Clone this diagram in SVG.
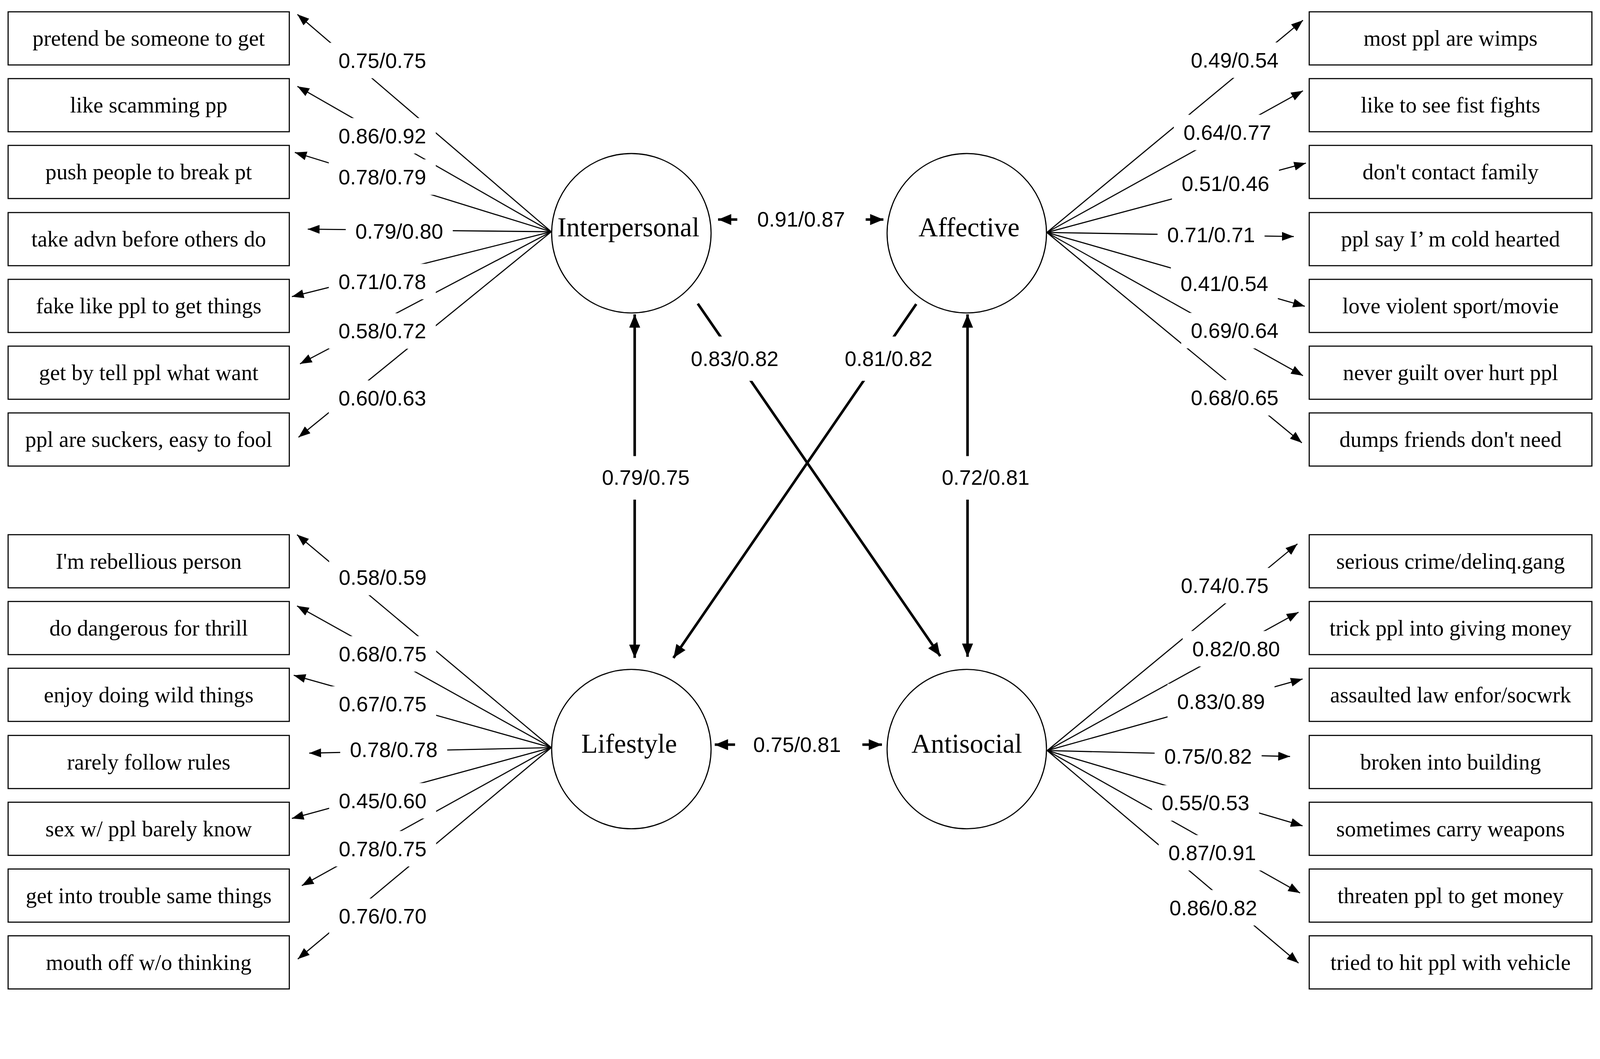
<svg xmlns="http://www.w3.org/2000/svg" width="4336" height="2711" viewBox="0 0 4336 2711" preserveAspectRatio="xMidYMin meet" style="width:100%;height:100%">
<style>
.box{fill:#fff;stroke:#000;stroke-width:3}
.bt{font-family:"Liberation Serif",serif;font-size:60px;text-anchor:middle}
.nt{font-family:"Liberation Serif",serif;font-size:73px;text-anchor:middle}
.lt{font-family:"Liberation Sans",sans-serif;font-size:57px;text-anchor:middle}
.circ{fill:#fff;stroke:#000;stroke-width:3}
.thin{stroke:#000;stroke-width:3;marker-end:url(#ah)}
.thick{stroke:#000;stroke-width:7;marker-end:url(#AH)}
.dbl{stroke:#000;stroke-width:7;marker-start:url(#AH);marker-end:url(#AH)}
.bg{fill:#fff}
</style>
<defs>
<marker id="ah" viewBox="0 0 32 24" refX="32" refY="12" markerWidth="32" markerHeight="24" markerUnits="userSpaceOnUse" orient="auto-start-reverse"><path d="M0,0 L32,12 L0,24 z"/></marker>
<marker id="AH" viewBox="0 0 36 30" refX="36" refY="15" markerWidth="36" markerHeight="30" markerUnits="userSpaceOnUse" orient="auto-start-reverse"><path d="M0,0 L36,15 L0,30 z"/></marker>
</defs>
<g id="connectors">
<line class="thin" x1="1494" y1="628" x2="806" y2="39"/>
<line class="thin" x1="1494" y1="628" x2="806" y2="234"/>
<line class="thin" x1="1494" y1="628" x2="799" y2="413"/>
<line class="thin" x1="1494" y1="628" x2="834" y2="621"/>
<line class="thin" x1="1494" y1="628" x2="791" y2="804"/>
<line class="thin" x1="1494" y1="628" x2="813" y2="986"/>
<line class="thin" x1="1494" y1="628" x2="809" y2="1185"/>
<line class="thin" x1="1494" y1="2026" x2="805" y2="1449"/>
<line class="thin" x1="1494" y1="2026" x2="805" y2="1642"/>
<line class="thin" x1="1494" y1="2026" x2="796" y2="1830"/>
<line class="thin" x1="1494" y1="2026" x2="838" y2="2041"/>
<line class="thin" x1="1494" y1="2026" x2="791" y2="2218"/>
<line class="thin" x1="1494" y1="2026" x2="818" y2="2400"/>
<line class="thin" x1="1494" y1="2026" x2="807" y2="2599"/>
<line class="thin" x1="2837" y1="630" x2="3531" y2="55"/>
<line class="thin" x1="2837" y1="630" x2="3531" y2="246"/>
<line class="thin" x1="2837" y1="630" x2="3539" y2="442"/>
<line class="thin" x1="2837" y1="630" x2="3506" y2="641"/>
<line class="thin" x1="2837" y1="630" x2="3536" y2="830"/>
<line class="thin" x1="2837" y1="630" x2="3531" y2="1018"/>
<line class="thin" x1="2837" y1="630" x2="3528" y2="1200"/>
<line class="thin" x1="2838" y1="2034" x2="3516" y2="1474"/>
<line class="thin" x1="2838" y1="2034" x2="3519" y2="1659"/>
<line class="thin" x1="2838" y1="2034" x2="3530" y2="1840"/>
<line class="thin" x1="2838" y1="2034" x2="3496" y2="2050"/>
<line class="thin" x1="2838" y1="2034" x2="3530" y2="2238"/>
<line class="thin" x1="2838" y1="2034" x2="3523" y2="2420"/>
<line class="thin" x1="2838" y1="2034" x2="3519" y2="2610"/>
<line class="dbl" x1="1946" y1="595" x2="2394" y2="595"/>
<line class="dbl" x1="1937" y1="2018" x2="2390" y2="2018"/>
<line class="dbl" x1="1720" y1="852" x2="1720" y2="1783"/>
<line class="dbl" x1="2622" y1="852" x2="2622" y2="1780"/>
<line class="thick" x1="1891" y1="823" x2="2548" y2="1778"/>
<line class="thick" x1="2483" y1="824" x2="1825" y2="1783"/>
</g>
<g id="labels">
<rect class="bg" x="891" y="116" width="290" height="96"/><text class="lt" x="1036" y="184">0.75/0.75</text>
<rect class="bg" x="891" y="320" width="290" height="96"/><text class="lt" x="1036" y="388">0.86/0.92</text>
<rect class="bg" x="891" y="432" width="290" height="96"/><text class="lt" x="1036" y="500">0.78/0.79</text>
<rect class="bg" x="937" y="579" width="290" height="96"/><text class="lt" x="1082" y="647">0.79/0.80</text>
<rect class="bg" x="891" y="715" width="290" height="96"/><text class="lt" x="1036" y="783">0.71/0.78</text>
<rect class="bg" x="891" y="849" width="290" height="96"/><text class="lt" x="1036" y="917">0.58/0.72</text>
<rect class="bg" x="891" y="1031" width="290" height="96"/><text class="lt" x="1036" y="1099">0.60/0.63</text>
<rect class="bg" x="892" y="1517" width="290" height="96"/><text class="lt" x="1037" y="1585">0.58/0.59</text>
<rect class="bg" x="892" y="1724" width="290" height="96"/><text class="lt" x="1037" y="1792">0.68/0.75</text>
<rect class="bg" x="892" y="1860" width="290" height="96"/><text class="lt" x="1037" y="1928">0.67/0.75</text>
<rect class="bg" x="922" y="1984" width="290" height="96"/><text class="lt" x="1067" y="2052">0.78/0.78</text>
<rect class="bg" x="892" y="2122" width="290" height="96"/><text class="lt" x="1037" y="2190">0.45/0.60</text>
<rect class="bg" x="892" y="2252" width="290" height="96"/><text class="lt" x="1037" y="2320">0.78/0.75</text>
<rect class="bg" x="892" y="2435" width="290" height="96"/><text class="lt" x="1037" y="2503">0.76/0.70</text>
<rect class="bg" x="3201" y="115" width="290" height="96"/><text class="lt" x="3346" y="183">0.49/0.54</text>
<rect class="bg" x="3181" y="311" width="290" height="96"/><text class="lt" x="3326" y="379">0.64/0.77</text>
<rect class="bg" x="3176" y="450" width="290" height="96"/><text class="lt" x="3321" y="518">0.51/0.46</text>
<rect class="bg" x="3137" y="588" width="290" height="96"/><text class="lt" x="3282" y="656">0.71/0.71</text>
<rect class="bg" x="3173" y="721" width="290" height="96"/><text class="lt" x="3318" y="789">0.41/0.54</text>
<rect class="bg" x="3201" y="848" width="290" height="96"/><text class="lt" x="3346" y="916">0.69/0.64</text>
<rect class="bg" x="3201" y="1030" width="290" height="96"/><text class="lt" x="3346" y="1098">0.68/0.65</text>
<rect class="bg" x="3174" y="1539" width="290" height="96"/><text class="lt" x="3319" y="1607">0.74/0.75</text>
<rect class="bg" x="3205" y="1710" width="290" height="96"/><text class="lt" x="3350" y="1778">0.82/0.80</text>
<rect class="bg" x="3164" y="1853" width="290" height="96"/><text class="lt" x="3309" y="1921">0.83/0.89</text>
<rect class="bg" x="3129" y="2002" width="290" height="96"/><text class="lt" x="3274" y="2070">0.75/0.82</text>
<rect class="bg" x="3122" y="2128" width="290" height="96"/><text class="lt" x="3267" y="2196">0.55/0.53</text>
<rect class="bg" x="3140" y="2263" width="290" height="96"/><text class="lt" x="3285" y="2331">0.87/0.91</text>
<rect class="bg" x="3143" y="2412" width="290" height="96"/><text class="lt" x="3288" y="2480">0.86/0.82</text>
<rect class="bg" x="1998" y="546" width="348" height="98"/><text class="lt" x="2171" y="614">0.91/0.87</text>
<rect class="bg" x="1992" y="1969" width="345" height="98"/><text class="lt" x="2160" y="2038">0.75/0.81</text>
<rect class="bg" x="1595" y="1236" width="310" height="118"/><text class="lt" x="1750" y="1314">0.79/0.75</text>
<rect class="bg" x="2516" y="1236" width="310" height="118"/><text class="lt" x="2671" y="1314">0.72/0.81</text>
<rect class="bg" x="1845" y="912" width="300" height="120"/><text class="lt" x="1991" y="992">0.83/0.82</text>
<rect class="bg" x="2258" y="912" width="300" height="120"/><text class="lt" x="2408" y="992">0.81/0.82</text>
</g>
<g id="n-interpersonal"><circle class="circ" cx="1711" cy="632" r="216"/><text class="nt" x="1703" y="640">Interpersonal</text></g>
<g id="n-affective"><circle class="circ" cx="2620" cy="632" r="216"/><text class="nt" x="2626" y="640">Affective</text></g>
<g id="n-lifestyle"><circle class="circ" cx="1711" cy="2030" r="216"/><text class="nt" x="1705" y="2040">Lifestyle</text></g>
<g id="n-antisocial"><circle class="circ" cx="2620" cy="2030" r="216"/><text class="nt" x="2620" y="2040">Antisocial</text></g>
<g id="left-top">
<g id="b-l1"><rect class="box" x="22" y="32" width="762" height="144"/><text class="bt" x="403" y="124">pretend be someone to get</text></g>
<g id="b-l2"><rect class="box" x="22" y="213" width="762" height="144"/><text class="bt" x="403" y="305">like scamming pp</text></g>
<g id="b-l3"><rect class="box" x="22" y="394" width="762" height="144"/><text class="bt" x="403" y="486">push people to break pt</text></g>
<g id="b-l4"><rect class="box" x="22" y="576" width="762" height="144"/><text class="bt" x="403" y="668">take advn before others do</text></g>
<g id="b-l5"><rect class="box" x="22" y="757" width="762" height="144"/><text class="bt" x="403" y="849">fake like ppl to get things</text></g>
<g id="b-l6"><rect class="box" x="22" y="938" width="762" height="144"/><text class="bt" x="403" y="1030">get by tell ppl what want</text></g>
<g id="b-l7"><rect class="box" x="22" y="1119" width="762" height="144"/><text class="bt" x="403" y="1211">ppl are suckers, easy to fool</text></g>
</g>
<g id="left-bottom">
<g id="b-l8"><rect class="box" x="22" y="1449" width="762" height="144"/><text class="bt" x="403" y="1541">I'm rebellious person</text></g>
<g id="b-l9"><rect class="box" x="22" y="1630" width="762" height="144"/><text class="bt" x="403" y="1722">do dangerous for thrill</text></g>
<g id="b-l10"><rect class="box" x="22" y="1811" width="762" height="144"/><text class="bt" x="403" y="1903">enjoy doing wild things</text></g>
<g id="b-l11"><rect class="box" x="22" y="1993" width="762" height="144"/><text class="bt" x="403" y="2085">rarely follow rules</text></g>
<g id="b-l12"><rect class="box" x="22" y="2174" width="762" height="144"/><text class="bt" x="403" y="2266">sex w/ ppl barely know</text></g>
<g id="b-l13"><rect class="box" x="22" y="2355" width="762" height="144"/><text class="bt" x="403" y="2447">get into trouble same things</text></g>
<g id="b-l14"><rect class="box" x="22" y="2536" width="762" height="144"/><text class="bt" x="403" y="2628">mouth off w/o thinking</text></g>
</g>
<g id="right-top">
<g id="b-r1"><rect class="box" x="3548" y="32" width="766" height="144"/><text class="bt" x="3931" y="124">most ppl are wimps</text></g>
<g id="b-r2"><rect class="box" x="3548" y="213" width="766" height="144"/><text class="bt" x="3931" y="305">like to see fist fights</text></g>
<g id="b-r3"><rect class="box" x="3548" y="394" width="766" height="144"/><text class="bt" x="3931" y="486">don't contact family</text></g>
<g id="b-r4"><rect class="box" x="3548" y="576" width="766" height="144"/><text class="bt" x="3931" y="668">ppl say I’ m cold hearted</text></g>
<g id="b-r5"><rect class="box" x="3548" y="757" width="766" height="144"/><text class="bt" x="3931" y="849">love violent sport/movie</text></g>
<g id="b-r6"><rect class="box" x="3548" y="938" width="766" height="144"/><text class="bt" x="3931" y="1030">never guilt over hurt ppl</text></g>
<g id="b-r7"><rect class="box" x="3548" y="1119" width="766" height="144"/><text class="bt" x="3931" y="1211">dumps friends don't need</text></g>
</g>
<g id="right-bottom">
<g id="b-r8"><rect class="box" x="3548" y="1449" width="766" height="144"/><text class="bt" x="3931" y="1541">serious crime/delinq.gang</text></g>
<g id="b-r9"><rect class="box" x="3548" y="1630" width="766" height="144"/><text class="bt" x="3931" y="1722">trick ppl into giving money</text></g>
<g id="b-r10"><rect class="box" x="3548" y="1811" width="766" height="144"/><text class="bt" x="3931" y="1903">assaulted law enfor/socwrk</text></g>
<g id="b-r11"><rect class="box" x="3548" y="1993" width="766" height="144"/><text class="bt" x="3931" y="2085">broken into building</text></g>
<g id="b-r12"><rect class="box" x="3548" y="2174" width="766" height="144"/><text class="bt" x="3931" y="2266">sometimes carry weapons</text></g>
<g id="b-r13"><rect class="box" x="3548" y="2355" width="766" height="144"/><text class="bt" x="3931" y="2447">threaten ppl to get money</text></g>
<g id="b-r14"><rect class="box" x="3548" y="2536" width="766" height="144"/><text class="bt" x="3931" y="2628">tried to hit ppl with vehicle</text></g>
</g>
</svg>
